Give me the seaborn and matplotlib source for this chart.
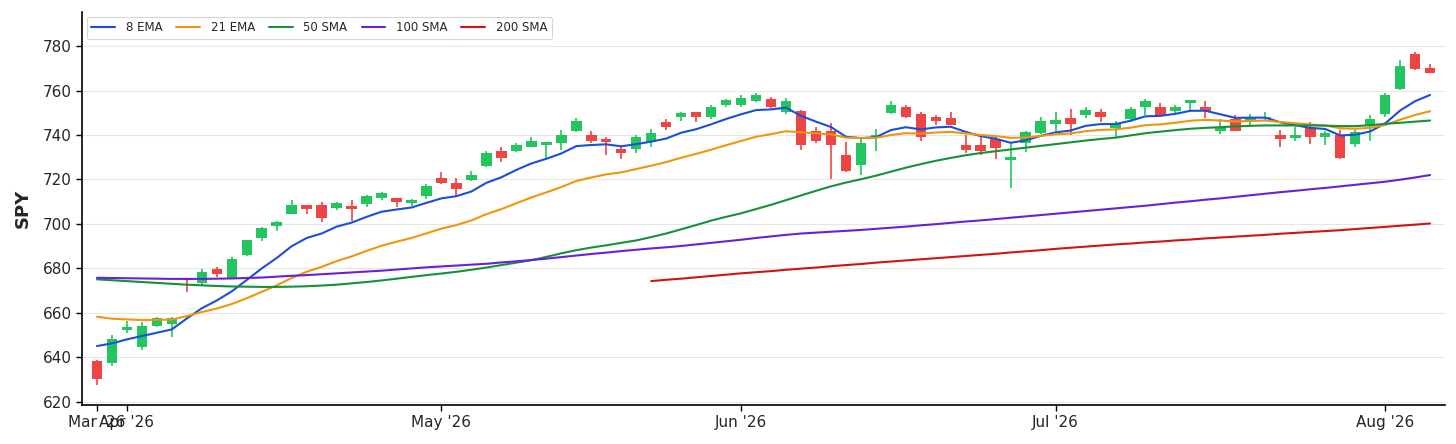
import numpy as np
import pandas as pd
import matplotlib
matplotlib.use("Agg")
import matplotlib.pyplot as plt
import seaborn as sns

# ---------------- data ----------------
holidays = ["2026-04-03", "2026-05-25", "2026-06-19", "2026-07-03"]
dates = pd.bdate_range("2026-03-30", periods=90, freq="C", holidays=holidays)

opens = [638.5, 637.6, 652.3, 644.8, 654.1, 655.0, 675.8, 673.3, 679.7, 675.8,
         686.0, 693.8, 699.2, 704.3, 708.5, 708.5, 707.0, 708.0, 708.9, 711.5,
         711.5, 709.2, 712.4, 720.6, 718.4, 719.6, 726.0, 733.0, 732.7, 734.8,
         735.3, 736.5, 741.6, 739.8, 738.3, 733.8, 733.8, 736.8, 745.8, 748.0,
         750.3, 748.3, 753.7, 753.3, 755.2, 756.0, 750.3, 750.6, 741.6, 741.6,
         731.2, 726.7, 739.0, 749.8, 752.8, 749.5, 748.3, 747.6, 735.3, 735.3,
         738.3, 728.8, 736.3, 740.8, 745.0, 747.6, 748.8, 750.3, 743.2, 747.3,
         752.5, 752.8, 751.0, 754.5, 752.8, 742.0, 747.3, 746.5, 747.6, 739.8,
         738.7, 743.2, 739.0, 739.8, 736.0, 744.3, 749.5, 760.7, 776.2, 770.2]
highs = [638.8, 650.0, 656.5, 656.0, 658.0, 658.0, 675.8, 679.7, 680.8, 685.0,
         693.0, 698.7, 701.4, 710.7, 708.5, 709.7, 710.0, 710.7, 713.0, 714.2,
         711.5, 711.0, 718.1, 723.3, 720.6, 723.6, 733.0, 734.8, 736.3, 739.3,
         736.8, 742.3, 747.7, 741.7, 739.3, 735.6, 740.2, 742.8, 747.3, 750.3,
         750.3, 753.3, 756.3, 758.2, 758.8, 757.0, 756.7, 751.3, 743.5, 745.3,
         736.8, 738.3, 742.8, 755.2, 753.7, 750.3, 748.8, 750.3, 739.8, 739.3,
         739.3, 736.3, 742.0, 748.0, 750.3, 751.5, 752.8, 751.5, 746.5, 752.5,
         756.0, 754.3, 753.7, 755.8, 755.1, 747.3, 748.8, 749.5, 750.3, 742.3,
         743.8, 745.8, 742.0, 742.3, 742.3, 749.2, 759.0, 773.8, 777.2, 772.0]
lows = [627.5, 636.1, 651.1, 643.3, 653.8, 649.3, 669.5, 672.1, 676.3, 675.5,
        685.5, 692.3, 696.8, 704.3, 704.3, 700.7, 706.2, 701.4, 707.5, 710.7,
        707.7, 708.0, 711.3, 718.1, 712.8, 719.3, 725.5, 727.8, 732.3, 734.5,
        729.7, 733.3, 741.3, 736.3, 731.1, 729.3, 732.0, 734.8, 742.3, 746.5,
        745.8, 747.3, 752.5, 752.5, 754.8, 752.1, 749.5, 733.3, 736.3, 720.3,
        723.3, 722.1, 732.7, 749.5, 747.7, 737.1, 744.3, 744.3, 731.8, 730.8,
        729.3, 716.3, 732.3, 740.5, 742.0, 739.8, 747.6, 745.8, 739.3, 745.8,
        748.8, 748.0, 748.8, 750.3, 747.7, 740.5, 741.7, 744.3, 746.5, 734.8,
        737.2, 736.0, 735.7, 729.1, 734.5, 737.5, 748.3, 760.3, 769.4, 767.8]
closes = [630.1, 648.5, 653.8, 654.1, 657.5, 657.5, 674.8, 678.2, 677.7, 684.2,
          692.7, 698.3, 701.0, 708.5, 706.7, 702.5, 709.5, 706.7, 712.5, 713.7,
          710.0, 710.7, 716.9, 718.5, 715.8, 722.1, 732.0, 729.6, 735.7, 737.5,
          736.8, 740.2, 746.5, 737.1, 736.8, 731.8, 739.3, 740.8, 743.5, 749.8,
          748.3, 752.5, 755.8, 756.6, 757.8, 752.5, 755.2, 735.7, 737.1, 735.3,
          723.7, 736.3, 740.2, 753.3, 748.3, 739.0, 746.5, 744.6, 733.3, 733.0,
          734.2, 730.3, 741.3, 746.5, 746.8, 745.0, 751.3, 748.0, 745.0, 751.8,
          755.2, 749.2, 752.8, 755.8, 750.7, 743.8, 742.0, 748.3, 748.0, 738.3,
          739.8, 739.0, 740.8, 729.7, 741.3, 747.0, 757.8, 771.2, 769.7, 767.9]

ema8 = [645.1, 646.3, 648.1, 649.6, 651.1, 652.6, 657.5, 662.1, 665.6, 669.7,
        674.8, 680.0, 684.7, 690.0, 693.7, 695.7, 698.8, 700.6, 703.2, 705.5,
        706.5, 707.4, 709.5, 711.5, 712.5, 714.6, 718.5, 721.0, 724.3, 727.2,
        729.3, 731.7, 735.0, 735.5, 735.8, 734.9, 735.9, 737.0, 738.4, 741.0,
        742.6, 744.8, 747.2, 749.3, 751.2, 751.5, 752.3, 748.6, 746.0, 743.6,
        739.2, 738.6, 739.0, 742.2, 743.5, 742.5, 743.4, 743.7, 741.4, 739.5,
        738.3, 736.5, 737.6, 739.6, 741.2, 742.0, 744.1, 744.9, 744.9, 746.4,
        748.4, 748.6, 749.5, 750.9, 750.9, 749.3, 747.7, 747.8, 747.8, 745.7,
        744.4, 743.2, 742.7, 739.8, 740.1, 741.6, 745.2, 751.0, 755.2, 758.0]
ema21 = [658.3, 657.4, 657.1, 656.8, 656.9, 657.0, 658.6, 660.4, 662.0, 664.0,
         666.6, 669.5, 672.4, 675.7, 678.5, 680.7, 683.3, 685.4, 687.9, 690.2,
         692.0, 693.7, 695.8, 697.9, 699.5, 701.6, 704.4, 706.7, 709.3, 711.9,
         714.2, 716.6, 719.3, 720.9, 722.3, 723.2, 724.7, 726.2, 727.8, 729.8,
         731.5, 733.4, 735.4, 737.3, 739.2, 740.4, 741.7, 741.2, 740.8, 740.3,
         738.8, 738.6, 738.7, 740.0, 740.8, 740.6, 741.1, 741.4, 740.7, 740.0,
         739.5, 738.7, 738.9, 739.6, 740.3, 740.7, 741.7, 742.3, 742.5, 743.3,
         744.4, 744.8, 745.5, 746.4, 746.8, 746.5, 746.1, 746.3, 746.5, 745.8,
         745.3, 744.7, 744.3, 743.0, 742.8, 743.2, 744.5, 746.9, 749.0, 750.7]
sma50 = [675.1, 674.7, 674.3, 673.9, 673.5, 673.1, 672.7, 672.4, 672.1, 671.9,
         671.8, 671.7, 671.7, 671.8, 672.0, 672.3, 672.7, 673.3, 673.9, 674.6,
         675.4, 676.2, 677.0, 677.7, 678.5, 679.4, 680.4, 681.5, 682.6, 683.7,
         685.2, 686.8, 688.2, 689.4, 690.4, 691.5, 692.6, 694.1, 695.7, 697.6,
         699.5, 701.5, 703.2, 704.8, 706.7, 708.6, 710.7, 712.8, 714.9, 716.9,
         718.6, 720.1, 721.7, 723.5, 725.3, 726.9, 728.4, 729.7, 730.9, 731.9,
         732.7, 733.5, 734.3, 735.1, 735.9, 736.7, 737.5, 738.2, 738.8, 739.8,
         740.8, 741.5, 742.2, 742.8, 743.2, 743.5, 743.9, 744.1, 744.3, 744.3,
         744.3, 744.3, 744.2, 744.0, 744.0, 744.4, 745.0, 745.5, 746.0, 746.5]
sma100 = [675.8, 675.7, 675.6, 675.5, 675.4, 675.3, 675.3, 675.3, 675.4, 675.5,
          675.7, 675.9, 676.3, 676.7, 677.0, 677.4, 677.8, 678.2, 678.6, 679.0,
          679.5, 680.0, 680.5, 680.9, 681.3, 681.7, 682.1, 682.7, 683.2, 683.8,
          684.4, 685.1, 685.8, 686.5, 687.1, 687.8, 688.4, 689.0, 689.5, 690.1,
          690.8, 691.5, 692.2, 692.9, 693.7, 694.4, 695.1, 695.7, 696.1, 696.5,
          696.9, 697.3, 697.8, 698.3, 698.8, 699.4, 699.9, 700.5, 701.1, 701.6,
          702.2, 702.8, 703.4, 704.0, 704.6, 705.2, 705.8, 706.4, 707.0, 707.6,
          708.2, 708.9, 709.6, 710.2, 710.9, 711.5, 712.2, 712.9, 713.6, 714.3,
          714.9, 715.6, 716.2, 716.9, 717.6, 718.3, 719.0, 719.9, 720.9, 722.0]
sma200 = [np.nan] * 37 + [
          674.3, 674.9, 675.4, 676.0, 676.6, 677.2, 677.8, 678.3, 678.8, 679.4,
          679.9, 680.4, 681.0, 681.5, 682.0, 682.6, 683.1, 683.6, 684.1, 684.6,
          685.1, 685.6, 686.1, 686.6, 687.2, 687.7, 688.2, 688.8, 689.3, 689.8,
          690.3, 690.8, 691.2, 691.7, 692.1, 692.6, 693.0, 693.5, 693.9, 694.3,
          694.7, 695.1, 695.6, 696.0, 696.4, 696.8, 697.2, 697.7, 698.2, 698.7,
          699.2, 699.7, 700.2]

ma_names = ["8 EMA", "21 EMA", "50 SMA", "100 SMA", "200 SMA"]
ma_values = [ema8, ema21, sma50, sma100, sma200]
ma_colors = ["#1a4fdc", "#f0950c", "#16913a", "#6a1fd8", "#d01414"]
ticker = "SPY"

# ---------------- plot ----------------
sns.set_theme(style="white")
plt.rcParams["font.family"] = ["DejaVu Sans"]

df = pd.DataFrame({"idx": np.arange(len(dates)), "date": dates,
                   "open": opens, "high": highs, "low": lows, "close": closes})
up_color = "#22c55e"
down_color = "#ef4444"
df["color"] = np.where(df["close"] >= df["open"], up_color, down_color)

fig = plt.figure(figsize=(14.56, 4.44), dpi=100)
ax = fig.add_axes([0.0563, 0.0878, 0.9362, 0.8852])

ax.yaxis.grid(True, color="#e6e6e6", linewidth=0.8)
ax.xaxis.grid(False)
ax.set_axisbelow(True)

ax.vlines(df["idx"], df["low"], df["high"], colors=df["color"], linewidth=1.2, zorder=2)
ax.bar(df["idx"], df["close"] - df["open"], bottom=df["open"], width=0.7,
       color=df["color"], linewidth=0, zorder=3)

for name, vals, col in zip(ma_names, ma_values, ma_colors):
    sns.lineplot(x=df["idx"], y=vals, color=col, linewidth=1.5, label=name,
                 ax=ax, zorder=4)

# month ticks at first trading day of each month (plus the first bar)
months = df["date"].dt.to_period("M")
tick_mask = (months != months.shift()).values
tick_pos = df["idx"][tick_mask].tolist()
tick_lab = [d.strftime("%b '%y") for d in df["date"][tick_mask]]
ax.set_xticks(tick_pos)
ax.set_xticklabels(tick_lab)

ax.set_xlim(-1, len(dates))
ax.set_ylim(618.6, 795.3)
ax.set_yticks(np.arange(620, 781, 20))

ax.set_xlabel("")
ax.set_ylabel(ticker, fontsize=13, fontweight="bold", labelpad=8)
ax.tick_params(axis="both", labelsize=11, length=4, width=1, color="black",
               direction="out", bottom=True, left=True)
for s in ["top", "right"]:
    ax.spines[s].set_visible(False)
for s in ["left", "bottom"]:
    ax.spines[s].set_color("black")
    ax.spines[s].set_linewidth(1.2)

leg = ax.legend(loc="upper left", ncol=5, fontsize=8.5, frameon=True,
                columnspacing=1.2, handlelength=2.0, handletextpad=0.9,
                borderaxespad=0.4, fancybox=True)
leg.get_frame().set_edgecolor("#cccccc")
leg.get_frame().set_linewidth(0.8)

fig.savefig("out.png", dpi=100)
